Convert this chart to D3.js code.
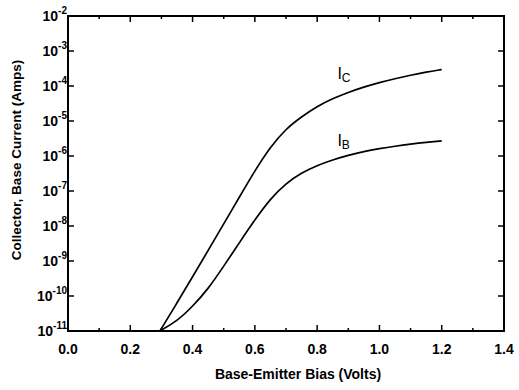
<!DOCTYPE html>
<meta charset="utf-8">
<style>
body { margin: 0; background: #fff; }
text { font-family: "Liberation Sans", Arial, sans-serif; font-weight: bold; fill: #000; }
.curve { fill: none; stroke: #000; stroke-width: 1.7; }
.frame { fill: none; stroke: #000; stroke-width: 2; }
.tick { stroke: #000; stroke-width: 1.5; }
</style>
<body>
<div id="chart"></div>
<script src="https://cdnjs.cloudflare.com/ajax/libs/d3/7.8.5/d3.min.js"></script>
<script>

// bias voltage (V) and log10 of the currents (A)
var bias  = [0.295, 0.35, 0.40, 0.45, 0.50, 0.55, 0.60, 0.65, 0.70, 0.75, 0.80, 0.85, 0.90, 0.95, 1.00, 1.05, 1.10, 1.15, 1.20];
var logIc = [-11, -10.2, -9.45, -8.7, -7.94, -7.18, -6.42, -5.74, -5.22, -4.88, -4.58, -4.36, -4.18, -4.03, -3.9, -3.79, -3.69, -3.6, -3.53];
var logIb = [-11, -10.72, -10.3, -9.8, -9.15, -8.48, -7.82, -7.22, -6.78, -6.48, -6.27, -6.11, -5.98, -5.87, -5.79, -5.72, -5.66, -5.61, -5.57];

var xTicks = [0.0, 0.2, 0.4, 0.6, 0.8, 1.0, 1.2, 1.4];
var xMinor = [0.1, 0.3, 0.5, 0.7, 0.9, 1.1, 1.3];
var yExp = [-2, -3, -4, -5, -6, -7, -8, -9, -10, -11];

var largeur = 519, hauteur = 390;
var margin = {top: 16, right: 15, bottom: 59, left: 68};

var svg = d3.select("#chart").append("svg")
    .attr("width", largeur)
    .attr("height", hauteur);

var x = d3.scaleLinear()
    .domain([0, 1.4])
    .range([margin.left, largeur - margin.right]);
var y = d3.scaleLog()
    .domain([1e-11, 1e-2])
    .range([hauteur - margin.bottom, margin.top]);

var x0 = x(0), x1 = x(1.4), y0 = y(1e-11), y1 = y(1e-2);

// ticks, all pointing inward, on the four sides
function tick(xa, ya, xb, yb) {
    svg.append("line").attr("class", "tick")
        .attr("x1", xa).attr("y1", ya).attr("x2", xb).attr("y2", yb);
}
xTicks.forEach(function(v) {
    tick(x(v), y0, x(v), y0 - 6);
    tick(x(v), y1, x(v), y1 + 6);
});
xMinor.forEach(function(v) {
    tick(x(v), y0, x(v), y0 - 3);
    tick(x(v), y1, x(v), y1 + 3);
});
yExp.forEach(function(e) {
    tick(x0, y(Math.pow(10, e)), x0 + 6, y(Math.pow(10, e)));
    tick(x1, y(Math.pow(10, e)), x1 - 6, y(Math.pow(10, e)));
});

svg.append("rect").attr("class", "frame")
    .attr("x", x0).attr("y", y1)
    .attr("width", x1 - x0).attr("height", y0 - y1);

// tick labels
svg.selectAll(".xlab")
    .data(xTicks)
    .enter().append("text")
        .attr("x", d => x(d))
        .attr("y", y0 + 23)
        .attr("text-anchor", "middle")
        .style("font-size", "14px")
        .text(d => d.toFixed(1));

var ylab = svg.selectAll(".ylab")
    .data(yExp)
    .enter().append("text")
        .attr("x", x0 - 1)
        .attr("y", d => y(Math.pow(10, d)) + 5)
        .attr("text-anchor", "end")
        .style("font-size", "14px");
ylab.append("tspan").text("10");
ylab.append("tspan")
    .attr("dy", -7)
    .style("font-size", "10px")
    .text(d => "-" + Math.abs(d));

// axis titles
svg.append("text")
    .attr("x", 298)
    .attr("y", 379)
    .attr("text-anchor", "middle")
    .style("font-size", "14px")
    .text("Base-Emitter Bias (Volts)");

svg.append("text")
    .attr("transform", "translate(21,160) rotate(-90)")
    .attr("text-anchor", "middle")
    .style("font-size", "13.5px")
    .text("Collector, Base Current (Amps)");

// curves
var line = d3.line()
    .x(d => x(d[0]))
    .y(d => y(Math.pow(10, d[1])))
    .curve(d3.curveBasis);

svg.append("path").attr("class", "curve")
    .datum(bias.map((v, i) => [v, logIc[i]]))
    .attr("d", line);
svg.append("path").attr("class", "curve")
    .datum(bias.map((v, i) => [v, logIb[i]]))
    .attr("d", line);

// curve labels
function curveLabel(px, py, sub) {
    var t = svg.append("text")
        .attr("x", px).attr("y", py)
        .style("font-size", "16px")
        .style("font-weight", "normal");
    t.append("tspan").text("I");
    t.append("tspan").attr("dy", 3).style("font-size", "12px").text(sub);
}
curveLabel(x(0.865), y(Math.pow(10, -3.8)), "C");
curveLabel(x(0.865), y(Math.pow(10, -5.7)), "B");

</script>
</body>
